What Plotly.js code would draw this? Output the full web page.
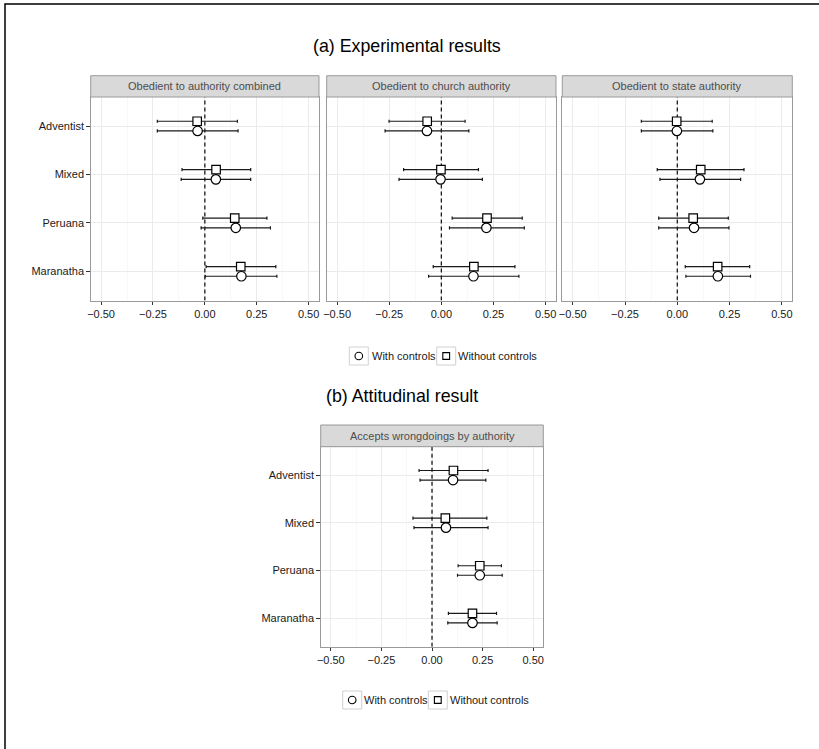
<!DOCTYPE html>
<html>
<head>
<meta charset="utf-8">
<script src="https://cdn.plot.ly/plotly-3.0.1.min.js"></script>
<style>html,body{margin:0;padding:0;background:#fff;}#chart{width:819px;height:749px;}</style>
</head>
<body>
<div id="chart"></div>
<script>
// ---------- data ----------
const categories = ['Adventist', 'Mixed', 'Peruana', 'Maranatha'];
const panelNames = ['Obedient to authority combined', 'Obedient to church authority', 'Obedient to state authority', 'Accepts wrongdoings by authority'];
const seriesNames = ['With controls', 'Without controls'];
const xTicks = [-0.5, -0.25, 0, 0.25, 0.5];
const xMinorTicks = [-0.375, -0.125, 0.125, 0.375];
const referenceX = 0;

// Obedient to authority combined
const combinedWithEst = [-0.035, 0.053, 0.149, 0.176];
const combinedWithLo  = [-0.229, -0.114, -0.018, 0.002];
const combinedWithHi  = [0.160, 0.221, 0.316, 0.347];
const combinedWithoutEst = [-0.037, 0.054, 0.144, 0.173];
const combinedWithoutLo  = [-0.229, -0.110, -0.010, 0.006];
const combinedWithoutHi  = [0.157, 0.221, 0.299, 0.342];

// Obedient to church authority
const churchWithEst = [-0.069, -0.004, 0.216, 0.154];
const churchWithLo  = [-0.270, -0.203, 0.039, -0.061];
const churchWithHi  = [0.132, 0.197, 0.398, 0.372];
const churchWithoutEst = [-0.068, -0.002, 0.219, 0.156];
const churchWithoutLo  = [-0.251, -0.181, 0.052, -0.039];
const churchWithoutHi  = [0.114, 0.178, 0.388, 0.353];

// Obedient to state authority
const stateWithEst = [-0.002, 0.108, 0.080, 0.194];
const stateWithLo  = [-0.172, -0.083, -0.089, 0.041];
const stateWithHi  = [0.170, 0.303, 0.247, 0.350];
const stateWithoutEst = [-0.003, 0.112, 0.076, 0.193];
const stateWithoutLo  = [-0.172, -0.096, -0.089, 0.038];
const stateWithoutHi  = [0.167, 0.319, 0.244, 0.346];

// Accepts wrongdoings by authority
const wrongWithEst = [0.104, 0.069, 0.236, 0.200];
const wrongWithLo  = [-0.059, -0.089, 0.126, 0.078];
const wrongWithHi  = [0.266, 0.277, 0.347, 0.322];
const wrongWithoutEst = [0.106, 0.066, 0.236, 0.200];
const wrongWithoutLo  = [-0.064, -0.094, 0.129, 0.081];
const wrongWithoutHi  = [0.277, 0.271, 0.343, 0.319];

// ---------- layout helpers ----------
const W = 819, H = 749;
const fx = p => p / W;
const fy = p => 1 - p / H;
const FONT = 'Liberation Sans, Arial, Helvetica, sans-serif';

const panels = [
  {name: panelNames[0], s: '',  x0: 90.7,  x1: 319.0, top: 97.0,  bot: 300.5, stripTop: 75.7,
   w: [combinedWithEst, combinedWithLo, combinedWithHi], wo: [combinedWithoutEst, combinedWithoutLo, combinedWithoutHi], labels: true},
  {name: panelNames[1], s: '2', x0: 326.7, x1: 556.0, top: 97.0,  bot: 300.5, stripTop: 75.7,
   w: [churchWithEst, churchWithLo, churchWithHi], wo: [churchWithoutEst, churchWithoutLo, churchWithoutHi], labels: false},
  {name: panelNames[2], s: '3', x0: 562.3, x1: 792.3, top: 97.0,  bot: 300.5, stripTop: 75.7,
   w: [stateWithEst, stateWithLo, stateWithHi], wo: [stateWithoutEst, stateWithoutLo, stateWithoutHi], labels: false},
  {name: panelNames[3], s: '4', x0: 320.7, x1: 543.3, top: 446.7, bot: 646.7, stripTop: 425.0,
   w: [wrongWithEst, wrongWithLo, wrongWithHi], wo: [wrongWithoutEst, wrongWithoutLo, wrongWithoutHi], labels: true}
];

const catPos = categories.map((c, i) => categories.length - i);
const dodge = 0.1;
const yRange = [0.4, categories.length + 0.6];

const traces = [];
const layout = {
  width: W, height: H,
  margin: {l: 0, r: 0, t: 0, b: 0},
  paper_bgcolor: '#fff', plot_bgcolor: '#fff',
  showlegend: false,
  font: {family: FONT, size: 11, color: '#1a1a1a'},
  shapes: [], annotations: []
};

function mkTrace(p, est, lo, hi, sign, symbol, size, name) {
  return {
    type: 'scatter', mode: 'markers', name: name,
    x: est, y: catPos.map(v => v + sign * dodge),
    xaxis: 'x' + p.s, yaxis: 'y' + p.s,
    marker: {symbol: symbol, size: size, color: '#fff', line: {color: '#000', width: 1.2}},
    error_x: {type: 'data', symmetric: false,
      array: hi.map((h, i) => h - est[i]), arrayminus: lo.map((l, i) => est[i] - l),
      color: '#1a1a1a', thickness: 1.2, width: 1.6},
    hoverinfo: 'skip', cliponaxis: false
  };
}

panels.forEach(p => {
  // dashed reference line at zero (drawn first, under the points)
  traces.push({type: 'scatter', mode: 'lines', x: [referenceX, referenceX], y: yRange,
    xaxis: 'x' + p.s, yaxis: 'y' + p.s, hoverinfo: 'skip',
    line: {color: '#1a1a1a', width: 1.3, dash: '4px,3px'}});
  traces.push(mkTrace(p, p.w[0], p.w[1], p.w[2], -1, 'circle', 9.5, seriesNames[0]));
  traces.push(mkTrace(p, p.wo[0], p.wo[1], p.wo[2], 1, 'square', 8.5, seriesNames[1]));

  layout['xaxis' + p.s] = {
    domain: [fx(p.x0), fx(p.x1)], anchor: 'y' + p.s,
    range: [-0.55, 0.55], tickmode: 'array', tickvals: xTicks, tickformat: '.2f',
    showgrid: true, gridcolor: '#ebebeb', gridwidth: 1, zeroline: false,
    minor: {tickvals: xMinorTicks, showgrid: true, gridcolor: '#f4f4f4', gridwidth: 0.6, ticks: ''},
    showline: true, mirror: true, linecolor: '#9a9a9a', linewidth: 1,
    ticks: 'outside', ticklen: 3, tickwidth: 1, tickcolor: '#333',
    tickfont: {family: FONT, size: 11, color: '#1a1a1a'}, fixedrange: true
  };
  layout['yaxis' + p.s] = {
    domain: [fy(p.bot), fy(p.top)], anchor: 'x' + p.s,
    range: yRange, tickmode: 'array', tickvals: catPos, ticktext: categories,
    showgrid: true, gridcolor: '#ebebeb', gridwidth: 1, zeroline: false,
    showline: true, mirror: true, linecolor: '#9a9a9a', linewidth: 1,
    ticks: p.labels ? 'outside' : '', ticklen: 3.5, tickwidth: 1, tickcolor: '#333',
    showticklabels: p.labels,
    tickfont: {family: FONT, size: 11, color: '#1a1a1a'}, fixedrange: true
  };

  // strip
  layout.shapes.push({type: 'rect', xref: 'paper', yref: 'paper',
    x0: fx(p.x0), x1: fx(p.x1), y0: fy(p.top), y1: fy(p.stripTop),
    fillcolor: '#d9d9d9', line: {color: '#9a9a9a', width: 1}, layer: 'above'});
  layout.annotations.push({xref: 'paper', yref: 'paper',
    x: fx((p.x0 + p.x1) / 2), y: fy((p.top + p.stripTop) / 2),
    text: p.name, showarrow: false, xanchor: 'center', yanchor: 'middle',
    font: {family: FONT, size: 11, color: '#4d4d4d'}});
});

// titles
layout.annotations.push({xref: 'paper', yref: 'paper', x: fx(407), y: fy(46),
  text: '(a) Experimental results', showarrow: false, xanchor: 'center', yanchor: 'middle',
  font: {family: FONT, size: 17.8, color: '#000'}});
layout.annotations.push({xref: 'paper', yref: 'paper', x: fx(402), y: fy(396),
  text: '(b) Attitudinal result', showarrow: false, xanchor: 'center', yanchor: 'middle',
  font: {family: FONT, size: 17.8, color: '#000'}});

// legends (manual, boxed keys)
function legend(box1, text1, box2, text2, yc) {
  const bh = 18;
  [[box1, 'circle'], [box2, 'square']].forEach(([bx, kind]) => {
    layout.shapes.push({type: 'rect', xref: 'paper', yref: 'paper',
      x0: fx(bx), x1: fx(bx + 19), y0: fy(yc + bh / 2), y1: fy(yc - bh / 2),
      fillcolor: '#fff', line: {color: '#d0d0d0', width: 1}});
    const cx = bx + 9.5, r = kind === 'circle' ? 3.8 : 3.4;
    layout.shapes.push({type: kind === 'circle' ? 'circle' : 'rect', xref: 'paper', yref: 'paper',
      x0: fx(cx - r), x1: fx(cx + r), y0: fy(yc + r), y1: fy(yc - r),
      fillcolor: '#fff', line: {color: '#000', width: 1.1}});
  });
  [[text1, seriesNames[0]], [text2, seriesNames[1]]].forEach(([tx, t]) => {
    layout.annotations.push({xref: 'paper', yref: 'paper', x: fx(tx), y: fy(yc),
      text: t, showarrow: false, xanchor: 'left', yanchor: 'middle',
      font: {family: FONT, size: 11, color: '#1a1a1a'}});
  });
}
legend(349.3, 369.5, 436.7, 456.0, 356);
legend(342.7, 361.5, 428.3, 448.0, 700);

// outer frame (left and top edges visible)
layout.shapes.push({type: 'path', xref: 'paper', yref: 'paper',
  path: 'M ' + fx(5) + ',' + fy(760) + ' L ' + fx(5) + ',' + fy(4) + ' L ' + fx(830) + ',' + fy(4),
  line: {color: '#000', width: 1.5}});

Plotly.newPlot('chart', traces, layout, {staticPlot: true, displayModeBar: false});
</script>
</body>
</html>
